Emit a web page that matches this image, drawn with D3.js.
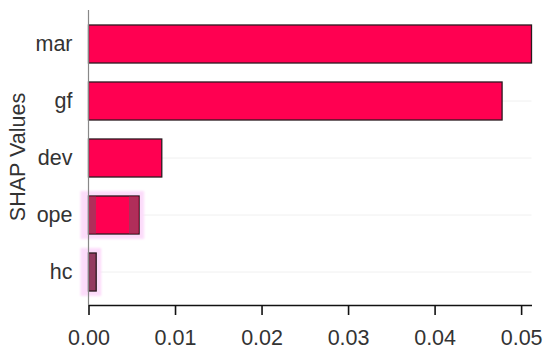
<!DOCTYPE html>
<html>
<head>
<meta charset="utf-8">
<script src="https://cdn.jsdelivr.net/npm/d3@7"></script>
<style>
  body { margin: 0; background: #fff; }
  text { font-family: "Liberation Sans", Arial, sans-serif; }
</style>
</head>
<body>
<div class="chart"></div>
<script>
// data
const features = ["mar", "gf", "dev", "ope", "hc"];
const shapValues = [0.0512, 0.0478, 0.00847, 0.00585, 0.00089];
const xTicks = [0, 0.01, 0.02, 0.03, 0.04, 0.05];
const highlighted = ["ope", "hc"];

const width = 550, height = 354;

const svg = d3.select(".chart")
  .append("svg")
  .attr("width", width)
  .attr("height", height);

// soft blur for the glow
svg.append("defs")
  .append("filter")
  .attr("id", "soft")
  .attr("x", "-20%").attr("y", "-20%").attr("width", "140%").attr("height", "140%")
  .append("feGaussianBlur")
  .attr("stdDeviation", 1.2);

const xScale = d3.scaleLinear().domain([0, 0.0512]).range([88.5, 531.5]);
const yScale = d3.scaleBand().domain(features).range([15.5, 300.5])
  .paddingInner(0.333).paddingOuter(0.1665);

// faint grid lines through the bar centres
svg.append("g")
  .selectAll("line")
  .data(features)
  .join("line")
  .attr("x1", xScale(0))
  .attr("x2", xScale(0.0512))
  .attr("y1", d => yScale(d) + yScale.bandwidth() / 2)
  .attr("y2", d => yScale(d) + yScale.bandwidth() / 2)
  .attr("stroke", "#f0f0f0")
  .attr("stroke-width", 1);

// pink glow behind the highlighted bars
const rows = features.map((f, i) => ({ name: f, value: shapValues[i] }));
svg.append("g")
  .attr("filter", "url(#soft)")
  .selectAll("rect")
  .data(rows.filter(d => highlighted.includes(d.name)))
  .join("rect")
  .attr("x", xScale(0) - 8)
  .attr("y", d => yScale(d.name) - 5)
  .attr("width", d => xScale(d.value) - xScale(0) + 13)
  .attr("height", yScale.bandwidth() + 10)
  .attr("fill", "#fcdcfa");

// bars
svg.append("g")
  .selectAll("rect")
  .data(rows)
  .join("rect")
  .attr("x", xScale(0))
  .attr("y", d => yScale(d.name))
  .attr("width", d => xScale(d.value) - xScale(0))
  .attr("height", yScale.bandwidth())
  .attr("fill", d => d.name === "hc" ? "#933a60" : "#ff0051")
  .attr("stroke", "#2b1a20")
  .attr("stroke-width", 1.3);

// darker shading at the edges of the ope bar
const ope = rows.find(d => d.name === "ope");
svg.append("g")
  .selectAll("rect")
  .data([[0, 0.00095], [0.0046, ope.value]])
  .join("rect")
  .attr("x", d => xScale(d[0]) + 0.7)
  .attr("y", yScale("ope") + 0.7)
  .attr("width", d => xScale(d[1]) - xScale(d[0]) - 1.4)
  .attr("height", yScale.bandwidth() - 1.4)
  .attr("fill", "#b02e5a");

// y axis (labels only, grey line)
const yAxis = svg.append("g")
  .attr("transform", `translate(${xScale(0)},0)`)
  .call(d3.axisLeft(yScale).tickSize(0).tickPadding(16));
yAxis.select(".domain").remove();
yAxis.selectAll("text")
  .attr("font-size", 21.5)
  .attr("fill", "#333");
svg.append("line")
  .attr("x1", xScale(0)).attr("x2", xScale(0))
  .attr("y1", 10).attr("y2", 305)
  .attr("stroke", "#888").attr("stroke-width", 1.2);

// x axis
const xAxis = svg.append("g")
  .attr("transform", "translate(0,305)")
  .call(d3.axisBottom(xScale).tickValues(xTicks).tickFormat(d3.format(".2f"))
    .tickSize(10).tickSizeOuter(0).tickPadding(15));
xAxis.select(".domain").attr("stroke", "#111").attr("stroke-width", 1.6);
xAxis.selectAll(".tick line").attr("stroke", "#111").attr("stroke-width", 1.6);
xAxis.selectAll("text")
  .attr("font-size", 21.5)
  .attr("fill", "#333");

// y axis title
svg.append("text")
  .attr("transform", "translate(25,157) rotate(-90)")
  .attr("text-anchor", "middle")
  .attr("font-size", 21.5)
  .attr("fill", "#333")
  .text("SHAP Values");
</script>
</body>
</html>
